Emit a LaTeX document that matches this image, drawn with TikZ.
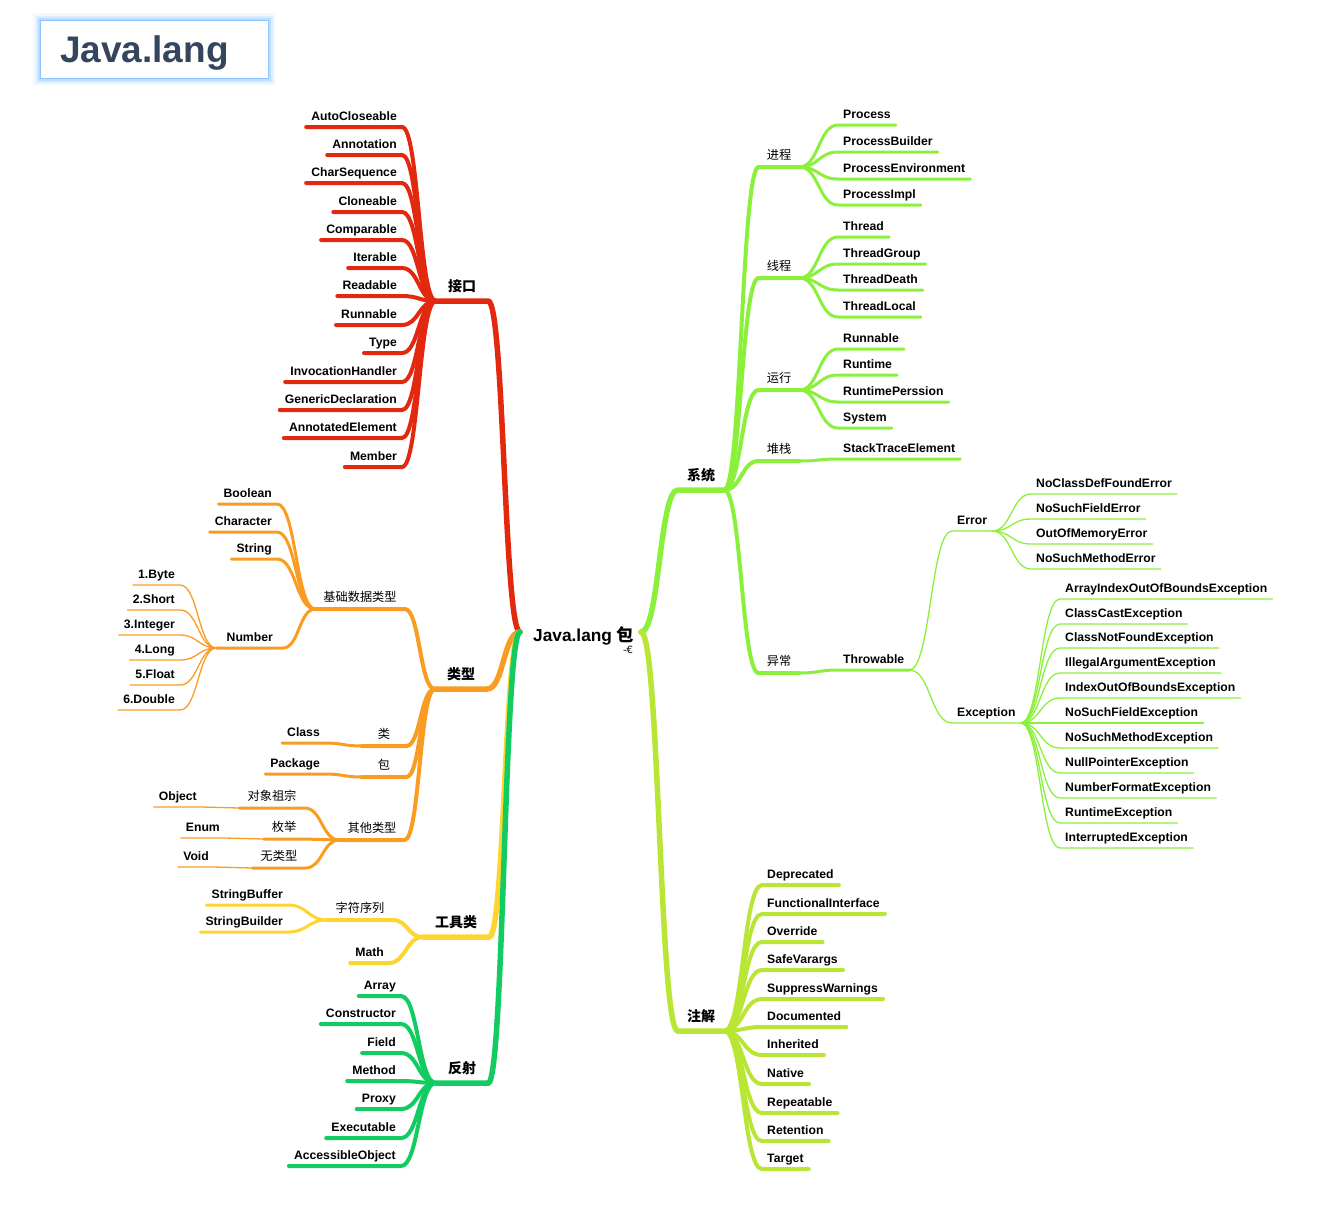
\documentclass[tikz,border=0pt]{standalone}
\usepackage{fontspec}
\setmainfont{Liberation Sans}
\newfontfamily\cjk{Noto Sans CJK SC}
\newfontfamily\symfont{DejaVu Sans}
\usetikzlibrary{calc}
\definecolor{jred}{HTML}{E2290F}
\definecolor{jorange}{HTML}{FA9C22}
\definecolor{jyellow}{HTML}{FDD532}
\definecolor{jgreen}{HTML}{12CC62}
\definecolor{jlime}{HTML}{8BF03C}
\definecolor{jolive}{HTML}{B9E634}
\definecolor{jtitle}{HTML}{34465E}
\definecolor{jglow}{HTML}{8CC4FF}
\newcommand{\fLeaf}{\fontsize{12.2}{14}\selectfont\bfseries}
\newcommand{\fTopA}{\cjk\fontsize{14}{16}\selectfont\bfseries}
\newcommand{\fTopB}{\cjk\fontsize{12.2}{14}\selectfont}
\begin{document}
\begin{tikzpicture}[x=1pt,y=-1pt,line cap=round,
  link/.style={to path={let \p1=(\tikztostart),\p2=(\tikztotarget) in .. controls ({0.5*\x1+0.5*\x2},\y1) and ({0.5*\x1+0.5*\x2},\y2) .. (\tikztotarget)}},
  lvA/.style={line width=5.5pt}, lvB/.style={line width=4pt}, lvC/.style={line width=3pt}, lvD/.style={line width=1.3pt},
  lf/.style={font=\fLeaf, inner xsep=5pt, inner ysep=3.2pt, text height=9pt, text depth=3pt},
  ll/.style={lf, anchor=south east}, rl/.style={lf, anchor=south west},
  ta/.style={font=\fTopA, anchor=south, inner xsep=12pt, inner ysep=6pt, text height=11pt, text depth=3pt},
  tb/.style={font=\fTopB, anchor=south, inner xsep=8pt, inner ysep=4.8pt, text height=10pt, text depth=3pt}]
\useasboundingbox (0,0) rectangle (1337,1211);
\node[fill=white, draw=jglow, line width=1pt, minimum height=58pt, text width=188pt, inner xsep=20pt, align=left,
  text height=27pt, text depth=0pt, font=\fontsize{37}{40}\selectfont\bfseries, text=jtitle,
  preaction={draw=jglow, line width=14pt, opacity=0.12},
  preaction={draw=jglow, line width=9pt, opacity=0.2},
  preaction={draw=jglow, line width=5pt, opacity=0.4}] (title) at (154,49) {Java.lang};
\node[font=\fontsize{17.3}{20}\selectfont\bfseries, inner sep=0pt, anchor=base west] (root) at (533,641) {Java.lang {\cjk\bfseries 包}};
\node[font=\symfont\fontsize{10}{11}\selectfont, inner sep=0pt] (fold) at (628,650) {-€};
\coordinate (rootL) at (520,632);
\coordinate (rootR) at (641,632);
\node[ta] (jiekou) at (462,301) {接口};
\node[ll] (ac) at (402,127) {AutoCloseable};
\node[ll] (an) at (402,155) {Annotation};
\node[ll] (cs) at (402,183) {CharSequence};
\node[ll] (cl) at (402,212) {Cloneable};
\node[ll] (cp) at (402,240) {Comparable};
\node[ll] (it) at (402,268) {Iterable};
\node[ll] (rd) at (402,296) {Readable};
\node[ll] (rn) at (402,325) {Runnable};
\node[ll] (ty) at (402,353) {Type};
\node[ll] (ih) at (402,382) {InvocationHandler};
\node[ll] (gd) at (402,410) {GenericDeclaration};
\node[ll] (ae) at (402,438) {AnnotatedElement};
\node[ll] (mb) at (402,467) {Member};
\node[ta] (leixing) at (461,689) {类型};
\node[tb] (jichu) at (360,609) {基础数据类型};
\node[ll] (bl) at (277,504) {Boolean};
\node[ll] (ch) at (277,532) {Character};
\node[ll] (st) at (277,559) {String};
\node[ll, inner xsep=10pt] (nm) at (283,648) {Number};
\node[ll] (by) at (180,585) {1.Byte};
\node[ll] (sh) at (180,610) {2.Short};
\node[ll] (ig) at (180,635) {3.Integer};
\node[ll] (lg) at (180,660) {4.Long};
\node[ll] (fl) at (180,685) {5.Float};
\node[ll] (db) at (180,710) {6.Double};
\node[tb, inner xsep=16pt] (lei) at (384,746) {类};
\node[ll] (cls) at (325,743) {Class};
\node[tb, inner xsep=16pt] (bao) at (384,777) {包};
\node[ll] (pkg) at (325,774) {Package};
\node[tb] (qita) at (372,840) {其他类型};
\node[tb] (dx) at (272,808) {对象祖宗};
\node[ll] (obj) at (202,807) {Object};
\node[tb] (mj) at (284,839) {枚举};
\node[ll] (enm) at (225,838) {Enum};
\node[tb] (wl) at (279,868) {无类型};
\node[ll] (vd) at (214,867) {Void};
\node[ta] (gj) at (456,937) {工具类};
\node[tb] (zf) at (360,920) {字符序列};
\node[ll] (sbf) at (288,905) {StringBuffer};
\node[ll] (sbd) at (288,932) {StringBuilder};
\node[ll] (mt) at (389,963) {Math};
\node[ta] (fs) at (462,1083) {反射};
\node[ll] (ar) at (401,996) {Array};
\node[ll] (co) at (401,1024) {Constructor};
\node[ll] (fd) at (401,1053) {Field};
\node[ll] (me) at (401,1081) {Method};
\node[ll] (px) at (401,1109) {Proxy};
\node[ll] (ex) at (401,1138) {Executable};
\node[ll] (ao) at (401,1166) {AccessibleObject};
\node[ta, inner xsep=9pt] (xt) at (701,490) {系统};
\node[tb] (jc) at (779,167) {进程};
\node[rl] (pr) at (838,125) {Process};
\node[rl] (pb) at (838,152) {ProcessBuilder};
\node[rl] (pe) at (838,179) {ProcessEnvironment};
\node[rl] (pi) at (838,205) {ProcessImpl};
\node[tb] (xc) at (779,278) {线程};
\node[rl] (th) at (838,237) {Thread};
\node[rl] (tg) at (838,264) {ThreadGroup};
\node[rl] (td) at (838,290) {ThreadDeath};
\node[rl] (tl) at (838,317) {ThreadLocal};
\node[tb] (yx) at (779,390) {运行};
\node[rl] (ru) at (838,349) {Runnable};
\node[rl] (rt) at (838,375) {Runtime};
\node[rl] (rp) at (838,402) {RuntimePerssion};
\node[rl] (sy) at (838,428) {System};
\node[tb] (dz) at (779,461) {堆栈};
\node[rl] (ste) at (838,459) {StackTraceElement};
\node[tb] (yc) at (779,673) {异常};
\node[rl] (tw) at (838,670) {Throwable};
\node[rl] (er) at (952,531) {Error};
\node[rl] (ec) at (952,723) {Exception};
\node[rl] (e1) at (1031,494) {NoClassDefFoundError};
\node[rl] (e2) at (1031,519) {NoSuchFieldError};
\node[rl] (e3) at (1031,544) {OutOfMemoryError};
\node[rl] (e4) at (1031,569) {NoSuchMethodError};
\node[rl] (x1) at (1060,599) {ArrayIndexOutOfBoundsException};
\node[rl] (x2) at (1060,624) {ClassCastException};
\node[rl] (x3) at (1060,648) {ClassNotFoundException};
\node[rl] (x4) at (1060,673) {IllegalArgumentException};
\node[rl] (x5) at (1060,698) {IndexOutOfBoundsException};
\node[rl] (x6) at (1060,723) {NoSuchFieldException};
\node[rl] (x7) at (1060,748) {NoSuchMethodException};
\node[rl] (x8) at (1060,773) {NullPointerException};
\node[rl] (x9) at (1060,798) {NumberFormatException};
\node[rl] (x10) at (1060,823) {RuntimeException};
\node[rl] (x11) at (1060,848) {InterruptedException};
\node[ta, inner xsep=9pt] (zj) at (701,1031) {注解};
\node[rl] (a1) at (762,885) {Deprecated};
\node[rl] (a2) at (762,914) {FunctionalInterface};
\node[rl] (a3) at (762,942) {Override};
\node[rl] (a4) at (762,970) {SafeVarargs};
\node[rl] (a5) at (762,999) {SuppressWarnings};
\node[rl] (a6) at (762,1027) {Documented};
\node[rl] (a7) at (762,1055) {Inherited};
\node[rl] (a8) at (762,1084) {Native};
\node[rl] (a9) at (762,1113) {Repeatable};
\node[rl] (a10) at (762,1141) {Retention};
\node[rl] (a11) at (762,1169) {Target};
\draw[jred,lvA] (rootL) to[link] (jiekou.south east) -- (jiekou.south west);
\draw[jred,lvB] (jiekou.south west) to[link] (ac.south east) -- (ac.south west);
\draw[jred,lvB] (jiekou.south west) to[link] (an.south east) -- (an.south west);
\draw[jred,lvB] (jiekou.south west) to[link] (cs.south east) -- (cs.south west);
\draw[jred,lvB] (jiekou.south west) to[link] (cl.south east) -- (cl.south west);
\draw[jred,lvB] (jiekou.south west) to[link] (cp.south east) -- (cp.south west);
\draw[jred,lvB] (jiekou.south west) to[link] (it.south east) -- (it.south west);
\draw[jred,lvB] (jiekou.south west) to[link] (rd.south east) -- (rd.south west);
\draw[jred,lvB] (jiekou.south west) to[link] (rn.south east) -- (rn.south west);
\draw[jred,lvB] (jiekou.south west) to[link] (ty.south east) -- (ty.south west);
\draw[jred,lvB] (jiekou.south west) to[link] (ih.south east) -- (ih.south west);
\draw[jred,lvB] (jiekou.south west) to[link] (gd.south east) -- (gd.south west);
\draw[jred,lvB] (jiekou.south west) to[link] (ae.south east) -- (ae.south west);
\draw[jred,lvB] (jiekou.south west) to[link] (mb.south east) -- (mb.south west);
\draw[jorange,lvA] (rootL) to[link] (leixing.south east) -- (leixing.south west);
\draw[jorange,lvB] (leixing.south west) to[link] (jichu.south east) -- (jichu.south west);
\draw[jorange,lvC] (jichu.south west) to[link] (bl.south east) -- (bl.south west);
\draw[jorange,lvC] (jichu.south west) to[link] (ch.south east) -- (ch.south west);
\draw[jorange,lvC] (jichu.south west) to[link] (st.south east) -- (st.south west);
\draw[jorange,lvC] (jichu.south west) to[link] (nm.south east) -- (nm.south west);
\draw[jorange,lvD] (nm.south west) to[link] (by.south east) -- (by.south west);
\draw[jorange,lvD] (nm.south west) to[link] (sh.south east) -- (sh.south west);
\draw[jorange,lvD] (nm.south west) to[link] (ig.south east) -- (ig.south west);
\draw[jorange,lvD] (nm.south west) to[link] (lg.south east) -- (lg.south west);
\draw[jorange,lvD] (nm.south west) to[link] (fl.south east) -- (fl.south west);
\draw[jorange,lvD] (nm.south west) to[link] (db.south east) -- (db.south west);
\draw[jorange,lvB] (leixing.south west) to[link] (lei.south east) -- (lei.south west);
\draw[jorange,lvC] (lei.south west) to[link] (cls.south east) -- (cls.south west);
\draw[jorange,lvB] (leixing.south west) to[link] (bao.south east) -- (bao.south west);
\draw[jorange,lvC] (bao.south west) to[link] (pkg.south east) -- (pkg.south west);
\draw[jorange,lvB] (leixing.south west) to[link] (qita.south east) -- (qita.south west);
\draw[jorange,lvC] (qita.south west) to[link] (dx.south east) -- (dx.south west);
\draw[jorange,lvD] (dx.south west) to[link] (obj.south east) -- (obj.south west);
\draw[jorange,lvC] (qita.south west) to[link] (mj.south east) -- (mj.south west);
\draw[jorange,lvD] (mj.south west) to[link] (enm.south east) -- (enm.south west);
\draw[jorange,lvC] (qita.south west) to[link] (wl.south east) -- (wl.south west);
\draw[jorange,lvD] (wl.south west) to[link] (vd.south east) -- (vd.south west);
\draw[jyellow,lvA] (rootL) to[link] (gj.south east) -- (gj.south west);
\draw[jyellow,lvB] (gj.south west) to[link] (zf.south east) -- (zf.south west);
\draw[jyellow,lvC] (zf.south west) to[link] (sbf.south east) -- (sbf.south west);
\draw[jyellow,lvC] (zf.south west) to[link] (sbd.south east) -- (sbd.south west);
\draw[jyellow,lvB] (gj.south west) to[link] (mt.south east) -- (mt.south west);
\draw[jgreen,lvA] (rootL) to[link] (fs.south east) -- (fs.south west);
\draw[jgreen,lvB] (fs.south west) to[link] (ar.south east) -- (ar.south west);
\draw[jgreen,lvB] (fs.south west) to[link] (co.south east) -- (co.south west);
\draw[jgreen,lvB] (fs.south west) to[link] (fd.south east) -- (fd.south west);
\draw[jgreen,lvB] (fs.south west) to[link] (me.south east) -- (me.south west);
\draw[jgreen,lvB] (fs.south west) to[link] (px.south east) -- (px.south west);
\draw[jgreen,lvB] (fs.south west) to[link] (ex.south east) -- (ex.south west);
\draw[jgreen,lvB] (fs.south west) to[link] (ao.south east) -- (ao.south west);
\draw[jlime,lvA] (rootR) to[link] (xt.south west) -- (xt.south east);
\draw[jlime,lvB] (xt.south east) to[link] (jc.south west) -- (jc.south east);
\draw[jlime,lvC] (jc.south east) to[link] (pr.south west) -- (pr.south east);
\draw[jlime,lvC] (jc.south east) to[link] (pb.south west) -- (pb.south east);
\draw[jlime,lvC] (jc.south east) to[link] (pe.south west) -- (pe.south east);
\draw[jlime,lvC] (jc.south east) to[link] (pi.south west) -- (pi.south east);
\draw[jlime,lvB] (xt.south east) to[link] (xc.south west) -- (xc.south east);
\draw[jlime,lvC] (xc.south east) to[link] (th.south west) -- (th.south east);
\draw[jlime,lvC] (xc.south east) to[link] (tg.south west) -- (tg.south east);
\draw[jlime,lvC] (xc.south east) to[link] (td.south west) -- (td.south east);
\draw[jlime,lvC] (xc.south east) to[link] (tl.south west) -- (tl.south east);
\draw[jlime,lvB] (xt.south east) to[link] (yx.south west) -- (yx.south east);
\draw[jlime,lvC] (yx.south east) to[link] (ru.south west) -- (ru.south east);
\draw[jlime,lvC] (yx.south east) to[link] (rt.south west) -- (rt.south east);
\draw[jlime,lvC] (yx.south east) to[link] (rp.south west) -- (rp.south east);
\draw[jlime,lvC] (yx.south east) to[link] (sy.south west) -- (sy.south east);
\draw[jlime,lvB] (xt.south east) to[link] (dz.south west) -- (dz.south east);
\draw[jlime,lvC] (dz.south east) to[link] (ste.south west) -- (ste.south east);
\draw[jlime,lvB] (xt.south east) to[link] (yc.south west) -- (yc.south east);
\draw[jlime,lvC] (yc.south east) to[link] (tw.south west) -- (tw.south east);
\draw[jlime,lvD] (tw.south east) to[link] (er.south west) -- (er.south east);
\draw[jlime,lvD] (tw.south east) to[link] (ec.south west) -- (ec.south east);
\draw[jlime,lvD] (er.south east) to[link] (e1.south west) -- (e1.south east);
\draw[jlime,lvD] (er.south east) to[link] (e2.south west) -- (e2.south east);
\draw[jlime,lvD] (er.south east) to[link] (e3.south west) -- (e3.south east);
\draw[jlime,lvD] (er.south east) to[link] (e4.south west) -- (e4.south east);
\draw[jlime,lvD] (ec.south east) to[link] (x1.south west) -- (x1.south east);
\draw[jlime,lvD] (ec.south east) to[link] (x2.south west) -- (x2.south east);
\draw[jlime,lvD] (ec.south east) to[link] (x3.south west) -- (x3.south east);
\draw[jlime,lvD] (ec.south east) to[link] (x4.south west) -- (x4.south east);
\draw[jlime,lvD] (ec.south east) to[link] (x5.south west) -- (x5.south east);
\draw[jlime,lvD] (ec.south east) to[link] (x6.south west) -- (x6.south east);
\draw[jlime,lvD] (ec.south east) to[link] (x7.south west) -- (x7.south east);
\draw[jlime,lvD] (ec.south east) to[link] (x8.south west) -- (x8.south east);
\draw[jlime,lvD] (ec.south east) to[link] (x9.south west) -- (x9.south east);
\draw[jlime,lvD] (ec.south east) to[link] (x10.south west) -- (x10.south east);
\draw[jlime,lvD] (ec.south east) to[link] (x11.south west) -- (x11.south east);
\draw[jolive,lvA] (rootR) to[link] (zj.south west) -- (zj.south east);
\draw[jolive,lvB] (zj.south east) to[link] (a1.south west) -- (a1.south east);
\draw[jolive,lvB] (zj.south east) to[link] (a2.south west) -- (a2.south east);
\draw[jolive,lvB] (zj.south east) to[link] (a3.south west) -- (a3.south east);
\draw[jolive,lvB] (zj.south east) to[link] (a4.south west) -- (a4.south east);
\draw[jolive,lvB] (zj.south east) to[link] (a5.south west) -- (a5.south east);
\draw[jolive,lvB] (zj.south east) to[link] (a6.south west) -- (a6.south east);
\draw[jolive,lvB] (zj.south east) to[link] (a7.south west) -- (a7.south east);
\draw[jolive,lvB] (zj.south east) to[link] (a8.south west) -- (a8.south east);
\draw[jolive,lvB] (zj.south east) to[link] (a9.south west) -- (a9.south east);
\draw[jolive,lvB] (zj.south east) to[link] (a10.south west) -- (a10.south east);
\draw[jolive,lvB] (zj.south east) to[link] (a11.south west) -- (a11.south east);
\end{tikzpicture}
\end{document}
